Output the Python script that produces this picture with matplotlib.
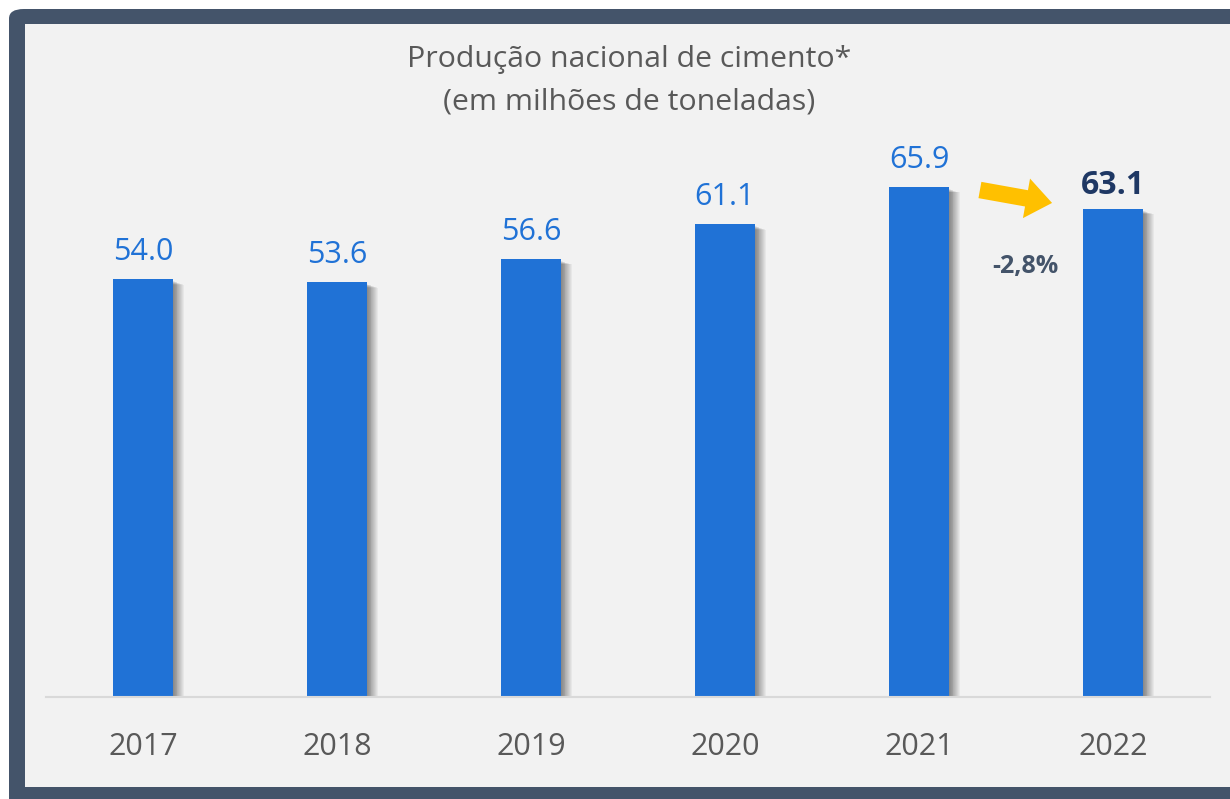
import matplotlib
import matplotlib.pyplot as plt
from matplotlib.patches import FancyBboxPatch, Rectangle

matplotlib.use("Agg")

years = ["2017", "2018", "2019", "2020", "2021", "2022"]
production = [54.0, 53.6, 56.6, 61.1, 65.9, 63.1]
change_label = "-2,8%"
title_lines = ["Produção nacional de cimento*", "(em milhões de toneladas)"]

bar_color = "#2072D6"
label_color = "#2072D6"
highlight_color = "#1F3864"
frame_color = "#44546A"
panel_color = "#F2F2F2"
text_gray = "#595959"

plt.rcParams["font.family"] = ["Open Sans", "DejaVu Sans"]

W, H = 1230, 799
fig = plt.figure(figsize=(W / 100, H / 100), dpi=100)
fig.patch.set_facecolor("white")

# dark frame and light panel
fig.patches.append(FancyBboxPatch((9 / W, -0.05), 1.1, (H - 9) / H + 0.05,
                                  boxstyle="round,pad=0,rounding_size=0.012",
                                  transform=fig.transFigure, facecolor=frame_color,
                                  edgecolor="none", zorder=-3))
fig.patches.append(Rectangle((25 / W, (H - 787) / H), 1.0, (787 - 24) / H,
                             transform=fig.transFigure, facecolor=panel_color,
                             edgecolor="none", zorder=-2))

left, right = 46 / W, 1210 / W
bottom, top = (H - 697) / H, (H - 140) / H
ax = fig.add_axes([left, bottom, right - left, top - bottom])
ax.set_facecolor("none")
ax.set_xlim(-0.5, len(years) - 0.5)
ax.set_ylim(0, 72)

x = list(range(len(years)))
width = 0.31

# soft shadow to the right of each bar
for k in range(1, 13):
    off = k * 0.0045
    ax.bar([v + off for v in x], [p - k * 0.04 for p in production], width=width,
           bottom=-0.2, color="black", alpha=0.045, zorder=1, linewidth=0)
ax.bar(x, production, width=width, color=bar_color, zorder=2, linewidth=0)

for i, (xi, val) in enumerate(zip(x, production)):
    last = i == len(production) - 1
    ax.annotate(f"{val:.1f}", (xi, val), xytext=(0, 11 if last else 14),
                textcoords="offset points", ha="center", va="baseline",
                fontsize=23 if last else 22,
                color=highlight_color if last else label_color,
                fontweight="bold" if last else "normal")

for s in ["top", "right", "left"]:
    ax.spines[s].set_visible(False)
ax.spines["bottom"].set_color("#D9D9D9")
ax.spines["bottom"].set_linewidth(1.5)
ax.set_yticks([])
ax.set_xticks(x)
ax.set_xticklabels(years, fontsize=22, color=text_gray)
ax.tick_params(axis="x", length=0, pad=25)

# change arrow between the last two bars
ax.annotate("", xy=(4.70, 63.8), xytext=(4.30, 65.6),
            arrowprops=dict(arrowstyle="simple,head_length=1.1,head_width=1.7,tail_width=0.7",
                            color="#FFC000", mutation_scale=17, linewidth=0))
ax.text(4.55, 55.6, change_label, ha="center", va="center", fontsize=18,
        fontweight="bold", color=frame_color)

fig.text(629 / W, (H - 60) / H, title_lines[0], ha="center", va="center",
         fontsize=21.8, color=text_gray)
fig.text(629 / W, (H - 102) / H, title_lines[1], ha="center", va="center",
         fontsize=21.8, color=text_gray)

fig.savefig("out.png", dpi=100)
plt.close(fig)
